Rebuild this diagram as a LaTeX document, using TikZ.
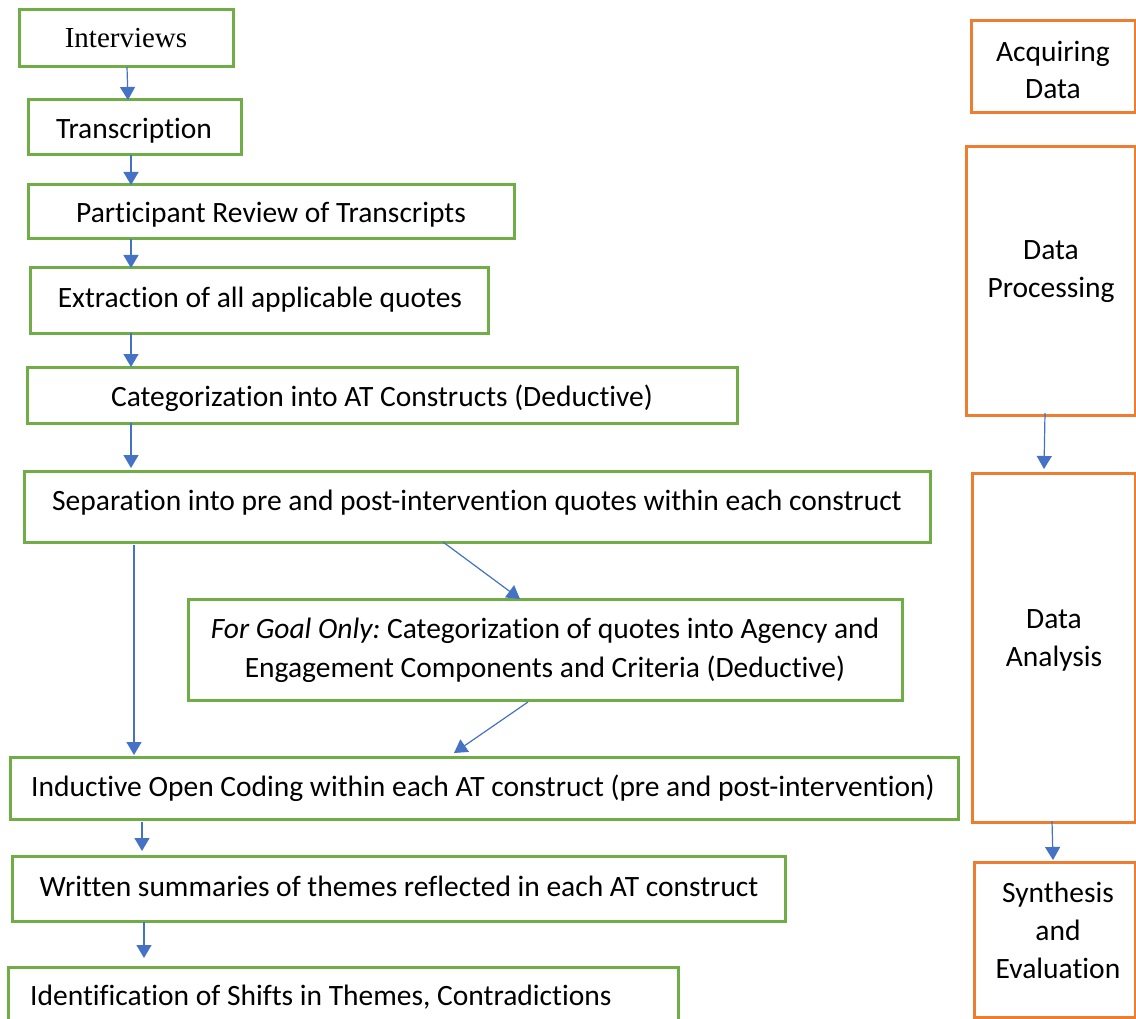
\documentclass[tikz,border=0pt]{standalone}
\usepackage{fontspec}
\setmainfont{Carlito}[Ligatures=NoCommon]
\newfontfamily\serifface{Liberation Serif}
\usetikzlibrary{arrows.meta}
\frenchspacing
\definecolor{stepgreen}{HTML}{70AD47}
\definecolor{phaseorange}{HTML}{ED7D31}
\definecolor{flowblue}{HTML}{4472C4}
\tikzset{
  stepbox/.style={draw=stepgreen, line width=3pt, fill=white},
  phasebox/.style={draw=phaseorange, line width=3pt, fill=white},
  flow/.style={draw=flowblue, line width=1.2pt, -{Triangle[width=15pt,length=13pt]}},
  txt/.style={anchor=base, inner sep=0pt, font=\fontsize{29.5}{36}\selectfont},
}
% rectangle node from its corners: style, name, x1, y1, x2, y2
\newcommand\boxnode[6]{%
  \node[#1, anchor=north west, inner sep=0pt, outer sep=0pt,
        minimum width={#5pt-#3pt}, minimum height={#6pt-#4pt}] (#2) at (#3,#4) {};}
\begin{document}
\begin{tikzpicture}[x=1pt,y=-1pt]
\clip (0,0) rectangle (1136,1019);
\fill[white] (0,0) rectangle (1136,1019);

% process steps
\boxnode{stepbox}{int}{19}{10}{233}{67}
\boxnode{stepbox}{tr}{28}{100}{241}{155}
\boxnode{stepbox}{pr}{28}{185}{514}{239}
\boxnode{stepbox}{ex}{30}{268}{488}{333}
\boxnode{stepbox}{cat}{27}{367}{737}{423}
\boxnode{stepbox}{sep}{24}{471}{930}{542}
\boxnode{stepbox}{goal}{188}{599}{902}{700}
\boxnode{stepbox}{ind}{10}{757}{958}{819}
\boxnode{stepbox}{wr}{12}{856}{785}{921}
\boxnode{stepbox}{idf}{8}{967}{678}{1040}

% phases
\boxnode{phasebox}{acq}{971}{21}{1135}{113}
\boxnode{phasebox}{dp}{966}{147}{1135}{415}
\boxnode{phasebox}{da}{972}{473}{1135}{822}
\boxnode{phasebox}{syn}{974}{862}{1135}{1017}

% step labels
\node[txt, font=\serifface\fontsize{29}{36}\selectfont] at (126,48) {Interviews};
\node[txt] at (134,139) {Transcription};
\node[txt] at (271,223) {Participant Review of Transcripts};
\node[txt] at (260,308) {Extraction of all applicable quotes};
\node[txt] at (382,406) {Categorization into AT Constructs (Deductive)};
\node[txt] at (477,510) {Separation into pre and post-intervention quotes within each construct};
\node[txt] at (545,638) {\textit{For Goal Only:} Categorization of quotes into Agency and};
\node[txt] at (545,677) {Engagement Components and Criteria (Deductive)};
\node[txt] at (483,796) {Inductive Open Coding within each AT construct (pre and post-intervention)};
\node[txt] at (399,896) {Written summaries of themes reflected in each AT construct};
\node[txt, anchor=base west] at (30,1005) {Identification of Shifts in Themes, Contradictions};

% phase labels
\node[txt] at (1053,62) {Acquiring};
\node[txt] at (1053,99) {Data};
\node[txt] at (1051,260) {Data};
\node[txt] at (1051,298) {Processing};
\node[txt] at (1054,628) {Data};
\node[txt] at (1054,666) {Analysis};
\node[txt] at (1058,902) {Synthesis};
\node[txt] at (1058,940) {and};
\node[txt] at (1058,978) {Evaluation};

% connectors
\draw[flow] ([xshift=108pt]int.south west) -- ([xshift=100pt]tr.north west);
\draw[flow] ([xshift=103pt]tr.south west) -- ([xshift=103pt]pr.north west);
\draw[flow] ([xshift=103pt]pr.south west) -- ([xshift=101pt]ex.north west);
\draw[flow] ([xshift=101pt]ex.south west) -- ([xshift=104pt]cat.north west);
\draw[flow] ([xshift=104pt]cat.south west) -- ([xshift=107pt,yshift=3pt]sep.north west);
\draw[flow] ([xshift=110pt,yshift=-3pt]sep.south west) -- ([xshift=124pt,yshift=2pt]ind.north west);
\draw[flow] ([xshift=419pt]sep.south west) -- ([xshift=332pt]goal.north west);
\draw[flow] ([xshift=340pt,yshift=-2pt]goal.south west) -- ([xshift=444pt,yshift=4pt]ind.north west);
\draw[flow] ([xshift=132pt,yshift=-3pt]ind.south west) -- ([xshift=130pt,yshift=5pt]wr.north west);
\draw[flow] ([xshift=132pt,yshift=-1pt]wr.south west) -- ([xshift=136pt,yshift=9pt]idf.north west);
\draw[flow] ([xshift=79pt,yshift=2pt]dp.south west) -- ([xshift=72pt,yshift=4pt]da.north west);
\draw[flow] ([xshift=80pt,yshift=1pt]da.south west) -- ([xshift=79pt,yshift=2pt]syn.north west);
\end{tikzpicture}
\end{document}
